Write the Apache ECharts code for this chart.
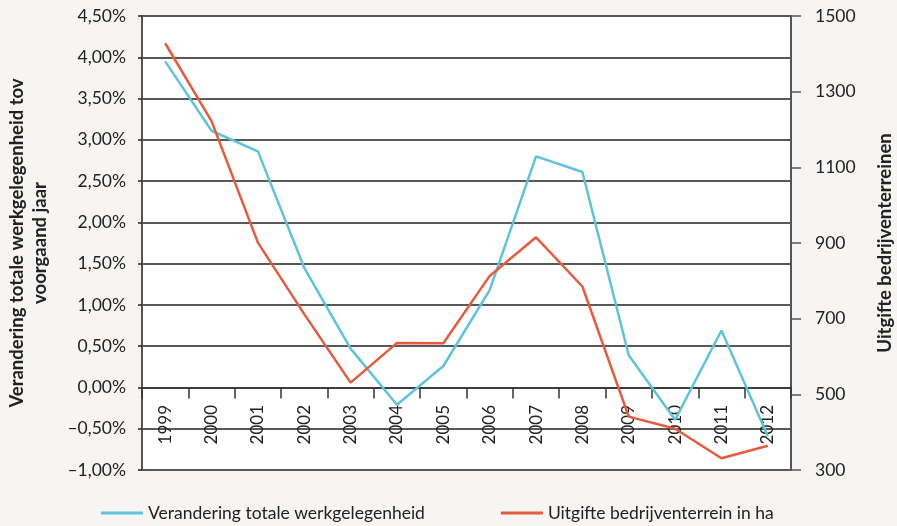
<!DOCTYPE html>
<html>
<head>
<meta charset="utf-8">
<script src="https://cdn.jsdelivr.net/npm/echarts@6/dist/echarts.min.js"></script>
<style>
  html, body { margin: 0; padding: 0; background: #f6f5f3; }
  #chart { width: 897px; height: 526px; }
</style>
</head>
<body>
<div id="chart"></div>
<script>
// jaren
const years = ["1999", "2000", "2001", "2002", "2003", "2004", "2005", "2006", "2007", "2008", "2009", "2010", "2011", "2012"];
// verandering totale werkgelegenheid (%)
const werkgelegenheid = [3.95, 3.11, 2.86, 1.45, 0.47, -0.21, 0.26, 1.18, 2.80, 2.61, 0.39, -0.39, 0.69, -0.59];
// uitgifte bedrijventerrein (ha)
const uitgifte = [1428, 1222, 901, 712, 531, 636, 635, 813, 915, 785, 441, 409, 331, 364];

const blue = "#5ec3dc";
const orange = "#e85a3c";
const txt = "#222";
const font = "Lato";

const chart = echarts.init(document.getElementById("chart"));

const pct = v => (v < 0 ? "\u2013" : "") + Math.abs(v).toFixed(2).replace(".", ",") + "%";

chart.setOption({
  backgroundColor: "#f6f5f3",
  textStyle: { fontFamily: font },
  animation: false,
  grid: {
    left: 142,
    right: 106,
    top: 16,
    bottom: 56,
    outerBoundsMode: "none",
    containLabel: false,
    show: true,
    backgroundColor: "#fff",
    borderWidth: 0
  },
  legend: {
    left: 96,
    top: 499,
    itemWidth: 42,
    itemHeight: 3,
    itemGap: 76,
    icon: "rect",
    textStyle: { color: txt, fontSize: 17.5, fontFamily: font },
    data: ["Verandering totale werkgelegenheid", "Uitgifte bedrijventerrein in ha"]
  },
  xAxis: {
    type: "category",
    data: years,
    boundaryGap: true,
    axisLine: { onZero: true, onZeroAxisIndex: 0, lineStyle: { color: "#333", width: 1.5 } },
    axisTick: { show: true, length: 11, lineStyle: { color: "#333", width: 1.5 } },
    axisLabel: { rotate: 90, margin: -65, color: txt, fontSize: 17, fontFamily: font },
    splitLine: { show: false }
  },
  yAxis: [
    {
      type: "value",
      min: -1,
      max: 4.5,
      interval: 0.5,
      name: "Verandering totale werkgelegenheid tov\nvoorgaand jaar",
      nameLocation: "middle",
      nameGap: 90,
      nameTextStyle: { fontWeight: "bold", fontSize: 18.5, color: txt, lineHeight: 23, fontFamily: font },
      axisLine: { show: true, lineStyle: { color: "#555", width: 2 } },
      axisTick: { show: true, length: 4, lineStyle: { color: "#222", width: 1.5 } },
      axisLabel: { formatter: pct, color: txt, fontSize: 17.5, margin: 16, fontFamily: font },
      splitLine: { show: true, lineStyle: { color: "#222", width: 1.5 } }
    },
    {
      type: "value",
      min: 300,
      max: 1500,
      interval: 200,
      position: "right",
      name: "Uitgifte bedrijventerreinen",
      nameLocation: "middle",
      nameRotate: 90,
      nameGap: 85,
      nameTextStyle: { fontWeight: "bold", fontSize: 18.5, color: txt, fontFamily: font },
      axisLine: { show: true, lineStyle: { color: "#555", width: 2 } },
      axisTick: { show: true, length: 10, lineStyle: { color: "#555", width: 1.5 } },
      axisLabel: { formatter: v => String(v), color: txt, fontSize: 17.5, margin: 24, fontFamily: font },
      splitLine: { show: false }
    }
  ],
  series: [
    {
      name: "Verandering totale werkgelegenheid",
      type: "line",
      yAxisIndex: 0,
      data: werkgelegenheid,
      symbol: "none",
      color: blue,
      lineStyle: { color: blue, width: 2.5 }
    },
    {
      name: "Uitgifte bedrijventerrein in ha",
      type: "line",
      yAxisIndex: 1,
      data: uitgifte,
      symbol: "none",
      color: orange,
      lineStyle: { color: orange, width: 2.5 }
    }
  ]
});
</script>
</body>
</html>
